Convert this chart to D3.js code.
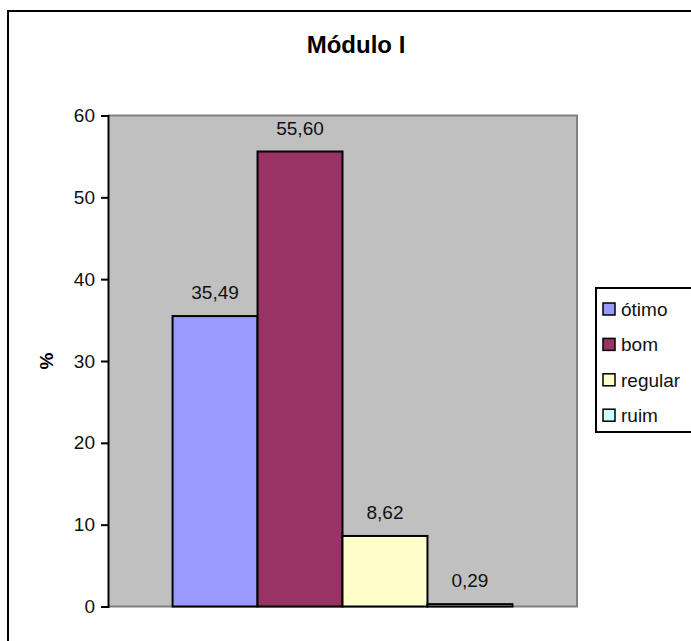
<!DOCTYPE html>
<html>
<head>
<meta charset="utf-8">
<script src="https://cdnjs.cloudflare.com/ajax/libs/d3/7.8.5/d3.min.js"></script>
<style>
body{margin:0;background:#fff;}
text{font-family:"Liberation Sans",Arial,sans-serif;}
</style>
</head>
<body>
<div class="canvas"></div>
<script>
// chart data
const categories=['ótimo','bom','regular','ruim'];
const values=[35.49,55.60,8.62,0.29];
const valueLabels=['35,49','55,60','8,62','0,29'];
const yTicks=[0,10,20,30,40,50,60];
const colors=['#9999ff','#993366','#ffffcc','#ccffff'];

const dims={width:691,height:641};
const plot={left:108,right:577,top:115.5,bottom:606.5};
const fs=19;

const svg=d3.select('.canvas')
.append('svg')
.attr('width',dims.width)
.attr('height',dims.height);

// outer chart border (runs off the page right/bottom)
svg.append('rect')
.attr('x',8).attr('y',11)
.attr('width',720).attr('height',700)
.attr('fill','#fff')
.attr('stroke','#000')
.attr('stroke-width',2);

svg.append('text')
.attr('x',356).attr('y',53)
.attr('text-anchor','middle')
.attr('font-size',24)
.attr('font-weight','bold')
.text('Módulo I');

const y=d3.scaleLinear().domain([0,60]).range([plot.bottom,plot.top]);

// one category, four series -> bands inside the group
const outer=d3.scaleBand().domain(['g']).range([plot.left,plot.right]).paddingInner(0).paddingOuter(0.19);
const x=d3.scaleBand().domain(categories).range([outer('g'),outer('g')+outer.bandwidth()]);

// plot area
svg.append('rect')
.attr('x',plot.left).attr('y',plot.top)
.attr('width',plot.right-plot.left).attr('height',plot.bottom-plot.top)
.attr('fill','#c0c0c0');
svg.append('path')
.attr('d',`M${plot.left},${plot.top}H${plot.right}V${plot.bottom}H${plot.left}`)
.attr('fill','none')
.attr('stroke','#808080')
.attr('stroke-width',2);

// bars
svg.selectAll('rect.bar')
.data(values)
.enter().append('rect')
.attr('class','bar')
.attr('x',(d,i)=>x(categories[i]))
.attr('y',d=>y(d))
.attr('width',x.bandwidth())
.attr('height',d=>y(0)-y(d))
.attr('fill',(d,i)=>colors[i])
.attr('stroke','#000')
.attr('stroke-width',2);

// value labels
svg.selectAll('text.val')
.data(values)
.enter().append('text')
.attr('class','val')
.attr('x',(d,i)=>x(categories[i])+x.bandwidth()/2)
.attr('y',d=>y(d)-17)
.attr('text-anchor','middle')
.attr('font-size',fs)
.attr('fill','#111')
.text((d,i)=>valueLabels[i]);

// y axis
const yAxis=d3.axisLeft(y).tickValues(yTicks).tickSize(7).tickPadding(6).tickFormat(d3.format('d'));
const ag=svg.append('g')
.attr('transform',`translate(${plot.left},0)`)
.call(yAxis);
ag.select('.domain').attr('stroke','#000').attr('stroke-width',2);
ag.selectAll('.tick line').attr('stroke','#000').attr('stroke-width',2);
ag.selectAll('.tick text')
.attr('font-family','"Liberation Sans",Arial,sans-serif')
.attr('font-size',fs)
.attr('fill','#111');

svg.append('text')
.attr('transform','translate(53,361) rotate(-90)')
.attr('text-anchor','middle')
.attr('font-size',fs)
.attr('font-weight','bold')
.text('%');

// legend
const lg=svg.append('g').attr('transform','translate(596,288)');
lg.append('rect')
.attr('x',0).attr('y',0)
.attr('width',120).attr('height',144)
.attr('fill','#fff')
.attr('stroke','#000')
.attr('stroke-width',2);
const items=lg.selectAll('g.item')
.data(categories)
.enter().append('g')
.attr('class','item')
.attr('transform',(d,i)=>`translate(0,${21+i*35.4})`);
items.append('rect')
.attr('x',7).attr('y',-6)
.attr('width',12).attr('height',12)
.attr('fill',(d,i)=>colors[i])
.attr('stroke','#000')
.attr('stroke-width',1.5);
items.append('text')
.attr('x',25).attr('y',7)
.attr('font-size',fs)
.attr('fill','#111')
.text(d=>d);
</script>
</body>
</html>
